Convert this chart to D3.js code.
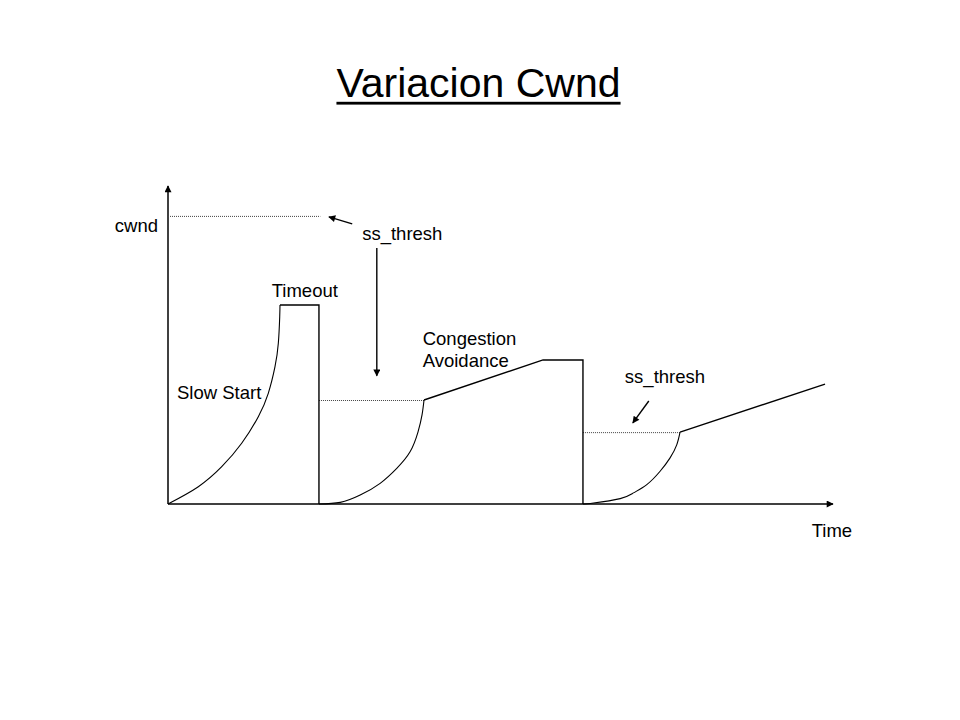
<!DOCTYPE html>
<html><head><meta charset="utf-8">
<script src="https://cdn.jsdelivr.net/npm/d3@7"></script>
<style>body{margin:0;background:#fff}svg{display:block}text{font-family:"Liberation Sans",Arial,sans-serif;fill:#000}</style>
</head><body>
<script>
// Data (time units 0..100, cwnd units 0..100)
const slowStart1 = [[0,0],[4.56,5.44],[8.08,11.73],[11.08,19.09],[13.58,27.45],[15.08,34.81],[16.09,43.18],[16.59,50.53],[16.8,58.9],[16.84,62.6]];
const timeoutBox = [[16.84,62.6],[22.7,62.6],[22.7,0]];
const slowStart2 = [[22.7,0],[25.9,0.5],[28.9,2.8],[31.9,6.5],[34.4,11.2],[36.4,16.4],[37.6,22.7],[38.2,28.0],[38.5,32.7]];
const congAvoid1 = [[38.5,32.7],[56.4,45.3],[62.4,45.3],[62.4,0]];
const slowStart3 = [[62.4,0],[64.0,0.3],[68.0,1.7],[70.0,3.5],[72.0,6.1],[74.0,10.3],[75.5,14.5],[76.5,18.6],[77.0,22.6]];
const congAvoid2 = [[77.0,22.6],[98.8,37.7]];
const thresholds = [{x0:0,x1:22.9,y:90.6},{x0:22.7,x1:38.5,y:32.7},{x0:62.4,x1:77.0,y:22.6}];
const pointers = [{from:[27.7,88.1],to:[24.2,90.3]},{from:[31.4,80.5],to:[31.4,40.3]},{from:[72.3,32.4],to:[69.9,25.5]}];
const labels = [
  {t:"cwnd",x:-1.5,y:85.5,a:"end"},
  {t:"ss_thresh",x:29.2,y:83.0,a:"start"},
  {t:"Timeout",x:15.6,y:65.1,a:"start"},
  {t:"Slow Start",x:1.35,y:33.0,a:"start"},
  {t:"Congestion",x:38.3,y:50.0,a:"start"},
  {t:"Avoidance",x:38.3,y:43.1,a:"start"},
  {t:"ss_thresh",x:68.7,y:38.1,a:"start"},
  {t:"Time",x:96.8,y:-10.4,a:"start"}
];
const title = "Variacion Cwnd";

const W=960,H=720;
const svg=d3.select("body").append("svg").attr("width",W).attr("height",H);
const x=d3.scaleLinear().domain([0,100]).range([168,833]);
const y=d3.scaleLinear().domain([0,100]).range([504,186]);

// title
const tt=svg.append("text").attr("x",478.5).attr("y",97).attr("text-anchor","middle")
  .attr("font-size",41).text(title);
const bb=tt.node().getBBox();
svg.append("rect").attr("x",bb.x).attr("y",101.8).attr("width",bb.width).attr("height",2.8).attr("fill","#000");

svg.append("defs").append("marker").attr("id","ah").attr("viewBox","0 0 10 10").attr("refX",9).attr("refY",5)
  .attr("markerWidth",9).attr("markerHeight",7).attr("markerUnits","userSpaceOnUse").attr("orient","auto")
  .append("path").attr("d","M0,0L10,5L0,10Z").attr("fill","#000");

// axes
svg.append("line").attr("x1",x(0)).attr("y1",y(0)).attr("x2",x(0)).attr("y2",y(100))
  .attr("stroke","#000").attr("stroke-width",1.5).attr("marker-end","url(#ah)");
svg.append("line").attr("x1",x(0)).attr("y1",y(0)).attr("x2",x(100)).attr("y2",y(0))
  .attr("stroke","#000").attr("stroke-width",1.5).attr("marker-end","url(#ah)");

// thresholds
svg.selectAll(".th").data(thresholds).join("line").attr("class","th")
  .attr("x1",d=>x(d.x0)).attr("x2",d=>x(d.x1)).attr("y1",d=>y(d.y)+0.5).attr("y2",d=>y(d.y)+0.5)
  .attr("stroke","#444").attr("stroke-width",1).attr("stroke-dasharray","1,1");

const curved=d3.line().x(d=>x(d[0])).y(d=>y(d[1])).curve(d3.curveNatural);
const straight=d3.line().x(d=>x(d[0])).y(d=>y(d[1]));
[slowStart1,slowStart2,slowStart3].forEach(s=>svg.append("path").attr("d",curved(s)).attr("fill","none").attr("stroke","#000").attr("stroke-width",1.1));
[timeoutBox,congAvoid1,congAvoid2].forEach(s=>svg.append("path").attr("d",straight(s)).attr("fill","none").attr("stroke","#000").attr("stroke-width",1.4));

// pointers
svg.selectAll(".pt").data(pointers).join("line").attr("class","pt")
  .attr("x1",d=>x(d.from[0])).attr("y1",d=>y(d.from[1])).attr("x2",d=>x(d.to[0])).attr("y2",d=>y(d.to[1]))
  .attr("stroke","#000").attr("stroke-width",1.4).attr("marker-end","url(#ah)");

svg.selectAll(".lb").data(labels).join("text").attr("class","lb")
  .attr("x",d=>x(d.x)).attr("y",d=>y(d.y)).attr("text-anchor",d=>d.a).attr("font-size",18.5).text(d=>d.t);
</script>
</body></html>
